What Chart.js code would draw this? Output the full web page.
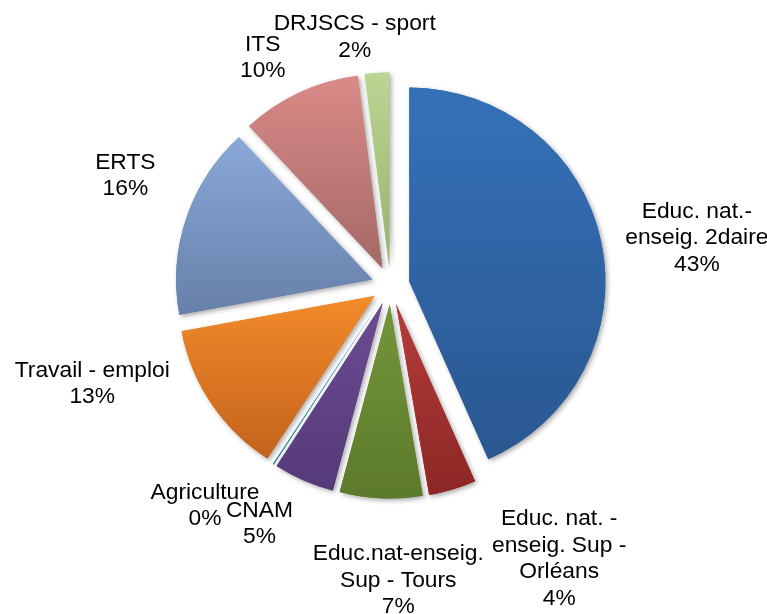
<!DOCTYPE html>
<html>
<head>
<meta charset="utf-8">
<script src="https://cdn.jsdelivr.net/npm/chart.js@4.4.1/dist/chart.umd.min.js"></script>
<style>
    html, body { margin: 0; padding: 0; background: #fff; }
</style>
</head>
<body>
<canvas id="myChart" width="767" height="614"></canvas>
<script>
let labels = ['Educ. nat.-\nenseig. 2daire', 'Educ. nat. -\nenseig. Sup -\nOrléans', 'Educ.nat-enseig.\nSup - Tours',
              'CNAM', 'Agriculture', 'Travail - emploi', 'ERTS', 'ITS', 'DRJSCS - sport'];
let values = [43.4, 3.9, 6.8, 5.0, 0.1, 12.9, 16.0, 9.9, 2.0];
let colorTop = ['#3571B8', '#B43C3A', '#74953A', '#6C4C94', '#3FA3BE', '#F28B2A', '#8AA8D8', '#DA8A88', '#BBD592'];
let colorBottom = ['#2A5790', '#8C2725', '#5C7A2B', '#553A78', '#2F8AA2', '#C4621C', '#6680A9', '#A46966', '#97B16D'];
// where each label sits: distance from the pie centre and angle clockwise from top (degrees)
let labelDist = [310, 321, 295, 272, 288, 314, 287, 261, 251];
let labelAngle = [81.2, 148.3, 178.5, 208.8, 220.1, 251.8, 292.5, 330.7, 351.8];

const pieRadius = 194;
const explode = 19;
const stretchX = 1.011;
let total = values.reduce((a, b) => a + b, 0);

function sliceAngles(i) {
    let start = 0;
    for (let k = 0; k < i; k++) start += values[k];
    return [start / total * 2 * Math.PI, (start + values[i]) / total * 2 * Math.PI];
}

// vertical gradient over each slice, like the office chart fill
function sliceFill(context) {
    let chart = context.chart;
    let area = chart.chartArea;
    let i = context.dataIndex;
    if (!area) return colorTop[i];
    let cy = (area.top + area.bottom) / 2;
    let [a0, a1] = sliceAngles(i);
    let ys = [cy];
    for (let k = 0; k <= 40; k++) {
        let a = a0 + (a1 - a0) * k / 40;
        ys.push(cy - pieRadius * Math.cos(a));
    }
    if (a0 <= Math.PI && a1 >= Math.PI) ys.push(cy + pieRadius);
    let y0 = Math.min(...ys), y1 = Math.max(...ys);
    if (y1 - y0 < 1) y1 = y0 + 1;
    let g = chart.ctx.createLinearGradient(0, y0, 0, y1);
    g.addColorStop(0, colorTop[i]);
    g.addColorStop(1, colorBottom[i]);
    return g;
}

// pull every slice out a bit, shadows first then the slices on top
const explodePlugin = {
    id: 'explode',
    beforeDatasetDraw(chart, args) {
        let ctx = chart.ctx;
        let area = chart.chartArea;
        let cx = (area.left + area.right) / 2, cy = (area.top + area.bottom) / 2;
        [true, false].forEach(shadow => {
            args.meta.data.forEach(arc => {
                let mid = (arc.startAngle + arc.endAngle) / 2;
                ctx.save();
                ctx.translate(cx, cy);
                ctx.scale(stretchX, 1);
                ctx.translate(-cx, -cy);
                ctx.translate(Math.cos(mid) * explode, Math.sin(mid) * explode);
                if (shadow) {
                    ctx.shadowColor = 'rgba(0,0,0,0.35)';
                    ctx.shadowBlur = 5;
                    ctx.shadowOffsetX = 2;
                    ctx.shadowOffsetY = 2;
                }
                arc.draw(ctx);
                ctx.restore();
            });
        });
        return false;
    }
};

const labelPlugin = {
    id: 'outLabels',
    afterDatasetsDraw(chart) {
        let ctx = chart.ctx;
        let area = chart.chartArea;
        let cx = (area.left + area.right) / 2, cy = (area.top + area.bottom) / 2;
        ctx.save();
        ctx.font = '22.8px "Liberation Sans", Arial, sans-serif';
        ctx.fillStyle = '#000';
        ctx.textAlign = 'center';
        ctx.textBaseline = 'middle';
        labels.forEach((lab, i) => {
            let lines = lab.split('\n').concat(Math.round(values[i] / total * 100) + '%');
            let a = labelAngle[i] * Math.PI / 180;
            let x = cx + labelDist[i] * Math.sin(a);
            let y = cy - labelDist[i] * Math.cos(a);
            let lh = 26.5;
            lines.forEach((t, k) => ctx.fillText(t, x, y + (k - (lines.length - 1) / 2) * lh));
        });
        ctx.restore();
    }
};

let ctx = document.getElementById('myChart').getContext('2d');
let myChart = new Chart(ctx, {
    type: 'pie',
    data: {
        labels: labels,
        datasets: [{
            data: values,
            backgroundColor: sliceFill,
            borderWidth: 0
        }]
    },
    options: {
        responsive: false,
        animation: false,
        events: [],
        radius: pieRadius,
        layout: { padding: { left: 14, right: 0, top: 0, bottom: 43 } },
        plugins: {
            legend: { display: false },
            tooltip: { enabled: false }
        }
    },
    plugins: [explodePlugin, labelPlugin]
});
</script>
</body>
</html>
